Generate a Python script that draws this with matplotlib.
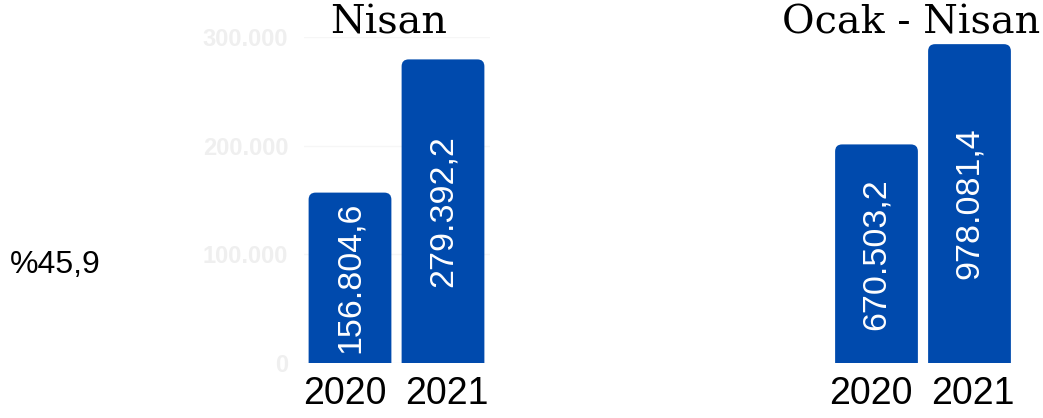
import matplotlib
matplotlib.use("Agg")
import matplotlib.pyplot as plt
from matplotlib.patches import FancyBboxPatch
from matplotlib.ticker import FuncFormatter

years = ["2020", "2021"]
nisan_values = [156804.6, 279392.2]
ocak_nisan_values = [670503.2, 978081.4]
titles = ["Nisan", "Ocak - Nisan"]
change_label = "%45,9"
left_ticks = [0, 100000, 200000, 300000]

BAR = "#004AAD"
W, H = 1043, 418
fig = plt.figure(figsize=(W / 100, H / 100), dpi=100)
sans = ["Liberation Sans", "DejaVu Sans"]


def fmt_tr(v, dec=1):
    s = f"{v:,.{dec}f}"
    return s.replace(",", "X").replace(".", ",").replace("X", ".")


def rounded_bars(ax, vals, r_px=7):
    bars = ax.bar(range(len(vals)), vals, width=0.89, color=BAR)
    fig.canvas.draw()
    inv = ax.transData.inverted()
    (x0, y0), (x1, y1) = inv.transform([(0, 0), (1, 1)])
    xu, yu = abs(x1 - x0), abs(y1 - y0)
    for b in bars:
        x, w, h = b.get_x(), b.get_width(), b.get_height()
        b.set_visible(False)
        rx = r_px * xu
        ry = r_px * yu
        p = FancyBboxPatch((x, -ry), w, h + ry,
                           boxstyle=f"round,pad=0,rounding_size={rx}",
                           mutation_aspect=yu / xu,
                           fc=BAR, ec="none", clip_on=True)
        ax.add_patch(p)
    return bars


def setup(ax, vals, ymax, show_y):
    ax.set_xlim(-0.5, 1.5)
    ax.set_ylim(0, ymax)
    for s in ax.spines.values():
        s.set_visible(False)
    ax.set_xticks([-0.06, 1.04])
    ax.set_xticklabels(years, fontsize=27, family=sans, color="black")
    ax.tick_params(axis="x", length=0, pad=9)
    if show_y:
        ax.set_yticks(left_ticks)
        ax.yaxis.set_major_formatter(FuncFormatter(lambda v, p: fmt_tr(v, 0)))
        ax.tick_params(axis="y", length=0, pad=11, labelsize=17, labelcolor="#EFEFEF")
        for t in ax.get_yticklabels():
            t.set_fontweight("bold")
            t.set_family(sans)
        ax.grid(axis="y", color="#F6F6F6", linewidth=1)
        ax.set_axisbelow(True)
    else:
        ax.set_yticks([])
    rounded_bars(ax, vals)
    for i, v in enumerate(vals):
        ax.text(i, v / 2, fmt_tr(v), rotation=90, ha="center", va="center",
                color="white", fontsize=24.5, family=sans)


ax1 = fig.add_axes([303.5 / W, 55 / H, 186 / W, 326 / H])
setup(ax1, nisan_values, 300000, True)
ax2 = fig.add_axes([830 / W, 55 / H, 186 / W, 326 / H])
setup(ax2, ocak_nisan_values, 1000000, False)

fig.text(389 / W, (H - 34) / H, titles[0], ha="center", va="baseline",
         fontsize=28.5, family="DejaVu Serif")
fig.text(911 / W, (H - 34) / H, titles[1], ha="center", va="baseline",
         fontsize=28.5, family="DejaVu Serif")
fig.text(10 / W, (H - 265) / H, change_label, ha="left", va="center",
         fontsize=23, family=sans, color="black")

fig.savefig("out.png", dpi=100, facecolor="white")
